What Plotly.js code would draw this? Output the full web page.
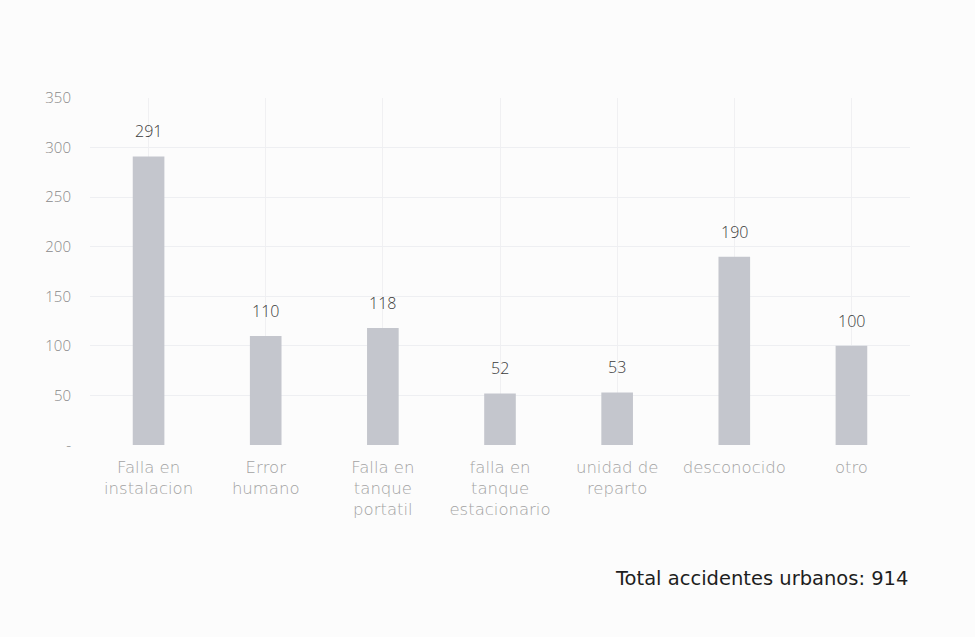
<!DOCTYPE html>
<html>
<head>
<meta charset="utf-8">
<script src="https://cdn.plot.ly/plotly-3.0.1.min.js"></script>
<style>html,body{margin:0;padding:0;background:#fcfcfc;}#chart{width:975px;height:637px;}</style>
</head>
<body>
<div id="chart"></div>
<script>
const categories = ["Falla en<br>instalacion", "Error<br>humano", "Falla en<br>tanque<br>portatil", "falla en<br>tanque<br>estacionario", "unidad de<br>reparto", "desconocido", "otro"];
const values = [291, 110, 118, 52, 53, 190, 100];
const tickVals = [0, 50, 100, 150, 200, 250, 300, 350];
const tickText = ["-", "50", "100", "150", "200", "250", "300", "350"];
const totalNote = "Total accidentes urbanos: 914";

const trace = {
  type: "bar",
  x: categories,
  y: values,
  marker: {color: "#c4c6cd"},
  hoverinfo: "none"
};

const valueLabels = categories.map((c, i) => ({
  x: c, y: values[i], xref: "x", yref: "y",
  text: String(values[i]), showarrow: false,
  yanchor: "bottom", yshift: 12,
  font: {family: "Open Sans, sans-serif", size: 16, color: "#3a3a3a", weight: 300}
}));

const layout = {
  width: 975, height: 637,
  paper_bgcolor: "#fcfcfc",
  plot_bgcolor: "#fcfcfc",
  margin: {l: 90, r: 65, t: 98, b: 192},
  bargap: 0.73,
  showlegend: false,
  xaxis: {
    tickfont: {family: "DejaVu Sans, sans-serif", size: 16.5, color: "#a2a2a2", weight: 200},
    showgrid: true, gridcolor: "#f0f0f2",
    showline: false, zeroline: false,
    ticks: "", ticklabelstandoff: 10
  },
  yaxis: {
    range: [0, 350],
    tickvals: tickVals, ticktext: tickText,
    tickfont: {family: "Open Sans, sans-serif", size: 15, color: "#8a8a8a", weight: 300},
    showgrid: true, gridcolor: "#eeeff2",
    zeroline: false, showline: false,
    ticks: "", ticklabelstandoff: 18
  },
  annotations: valueLabels.concat([{
    text: totalNote, xref: "paper", yref: "paper",
    x: 1.0, y: -0.385, xanchor: "right", yanchor: "middle",
    showarrow: false,
    font: {family: "DejaVu Sans, sans-serif", size: 19.5, color: "#1e1e1e"}
  }])
};

Plotly.newPlot("chart", [trace], layout, {staticPlot: true});
</script>
</body>
</html>
